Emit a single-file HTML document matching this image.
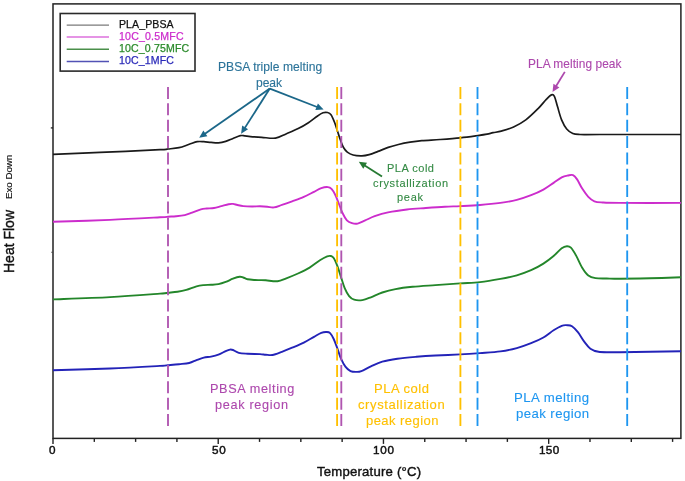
<!DOCTYPE html>
<html><head><meta charset="utf-8"><style>
html,body{margin:0;padding:0;background:#fff;}
body{width:685px;height:481px;position:relative;overflow:hidden;font-family:"Liberation Sans",sans-serif;}
svg{position:absolute;left:0;top:0;}
.t{position:absolute;white-space:nowrap;line-height:1;will-change:transform;}
.rot{position:absolute;white-space:nowrap;line-height:1;transform-origin:0 0;will-change:transform;}
</style></head><body>
<svg width="685" height="481" viewBox="0 0 685 481">
<rect x="53" y="3.9" width="627.9" height="434.5" fill="none" stroke="#222" stroke-width="1.5"/>
<line x1="53.00" y1="438.3" x2="53.00" y2="443.9" stroke="#222" stroke-width="1.4"/>
<line x1="94.31" y1="438.3" x2="94.31" y2="441.9" stroke="#222" stroke-width="1.4"/>
<line x1="135.61" y1="438.3" x2="135.61" y2="441.9" stroke="#222" stroke-width="1.4"/>
<line x1="176.92" y1="438.3" x2="176.92" y2="441.9" stroke="#222" stroke-width="1.4"/>
<line x1="218.22" y1="438.3" x2="218.22" y2="443.9" stroke="#222" stroke-width="1.4"/>
<line x1="259.53" y1="438.3" x2="259.53" y2="441.9" stroke="#222" stroke-width="1.4"/>
<line x1="300.84" y1="438.3" x2="300.84" y2="441.9" stroke="#222" stroke-width="1.4"/>
<line x1="342.14" y1="438.3" x2="342.14" y2="441.9" stroke="#222" stroke-width="1.4"/>
<line x1="383.45" y1="438.3" x2="383.45" y2="443.9" stroke="#222" stroke-width="1.4"/>
<line x1="424.76" y1="438.3" x2="424.76" y2="441.9" stroke="#222" stroke-width="1.4"/>
<line x1="466.06" y1="438.3" x2="466.06" y2="441.9" stroke="#222" stroke-width="1.4"/>
<line x1="507.37" y1="438.3" x2="507.37" y2="441.9" stroke="#222" stroke-width="1.4"/>
<line x1="548.67" y1="438.3" x2="548.67" y2="443.9" stroke="#222" stroke-width="1.4"/>
<line x1="589.98" y1="438.3" x2="589.98" y2="441.9" stroke="#222" stroke-width="1.4"/>
<line x1="631.29" y1="438.3" x2="631.29" y2="441.9" stroke="#222" stroke-width="1.4"/>
<line x1="672.59" y1="438.3" x2="672.59" y2="441.9" stroke="#222" stroke-width="1.4"/>
<line x1="53" y1="127.9" x2="50.8" y2="127.9" stroke="#222" stroke-width="1.3"/>
<line x1="53" y1="252.3" x2="51.3" y2="252.3" stroke="#444" stroke-width="1.1"/>
<path d="M53.00 370.30 C62.50 370.00 92.17 369.23 110.00 368.50 C127.83 367.77 150.33 366.45 160.00 365.90 C169.67 365.35 164.83 365.48 168.00 365.20 C171.17 364.92 175.47 364.57 179.00 364.20 C182.53 363.83 186.28 363.68 189.20 363.00 C192.12 362.32 194.07 361.00 196.50 360.10 C198.93 359.20 201.37 358.18 203.80 357.60 C206.23 357.02 208.67 357.08 211.10 356.60 C213.53 356.12 215.97 355.62 218.40 354.70 C220.83 353.78 223.77 351.95 225.70 351.10 C227.63 350.25 228.78 349.78 230.00 349.60 C231.22 349.42 231.53 349.47 233.00 350.00 C234.47 350.53 236.37 352.18 238.80 352.80 C241.23 353.42 244.07 353.48 247.60 353.70 C251.13 353.92 256.97 353.93 260.00 354.10 C263.03 354.27 263.73 354.55 265.80 354.70 C267.87 354.85 269.72 355.48 272.40 355.00 C275.08 354.52 278.62 353.02 281.90 351.80 C285.18 350.58 288.45 349.23 292.10 347.70 C295.75 346.17 300.15 344.42 303.80 342.60 C307.45 340.78 311.08 338.43 314.00 336.80 C316.92 335.17 319.23 333.60 321.30 332.80 C323.37 332.00 324.93 331.95 326.40 332.00 C327.87 332.05 328.88 331.93 330.10 333.10 C331.32 334.27 332.48 336.43 333.70 339.00 C334.92 341.57 336.18 345.22 337.40 348.50 C338.62 351.78 339.67 355.67 341.00 358.70 C342.33 361.73 343.82 364.63 345.40 366.70 C346.98 368.77 348.67 370.23 350.50 371.10 C352.33 371.97 354.58 371.90 356.40 371.90 C358.22 371.90 358.98 372.03 361.40 371.10 C363.82 370.17 367.42 367.88 370.90 366.30 C374.38 364.72 377.88 362.87 382.30 361.60 C386.72 360.33 391.72 359.50 397.40 358.70 C403.08 357.90 410.07 357.33 416.40 356.80 C422.73 356.27 428.12 355.90 435.40 355.50 C442.68 355.10 452.67 354.80 460.10 354.40 C467.53 354.00 473.28 353.60 480.00 353.10 C486.72 352.60 494.27 352.23 500.40 351.40 C506.53 350.57 511.68 349.47 516.80 348.10 C521.92 346.73 526.67 344.97 531.10 343.20 C535.53 341.43 539.65 339.65 543.40 337.50 C547.15 335.35 550.55 332.25 553.60 330.30 C556.65 328.35 559.48 326.65 561.70 325.80 C563.92 324.95 565.18 325.13 566.90 325.20 C568.62 325.27 570.13 325.00 572.00 326.20 C573.87 327.40 576.07 329.83 578.10 332.40 C580.13 334.97 582.15 338.88 584.20 341.60 C586.25 344.32 588.02 347.00 590.40 348.70 C592.78 350.40 595.10 351.22 598.50 351.80 C601.90 352.38 607.22 352.13 610.80 352.20 C614.38 352.27 608.30 352.35 620.00 352.20 C631.70 352.05 670.83 351.45 681.00 351.30" fill="none" stroke="#2323b8" stroke-width="1.90" stroke-linejoin="round"/>
<path d="M53.00 299.40 C62.50 299.02 92.17 298.07 110.00 297.10 C127.83 296.13 150.33 294.32 160.00 293.60 C169.67 292.88 165.08 293.10 168.00 292.80 C170.92 292.50 174.45 292.28 177.50 291.80 C180.55 291.32 183.13 290.82 186.30 289.90 C189.47 288.98 193.58 287.10 196.50 286.30 C199.42 285.50 201.37 285.35 203.80 285.10 C206.23 284.85 208.67 284.97 211.10 284.80 C213.53 284.63 215.97 284.58 218.40 284.10 C220.83 283.62 223.27 282.80 225.70 281.90 C228.13 281.00 230.68 279.55 233.00 278.70 C235.32 277.85 237.90 277.00 239.60 276.80 C241.30 276.60 241.87 277.08 243.20 277.50 C244.53 277.92 245.65 278.88 247.60 279.30 C249.55 279.72 252.83 279.87 254.90 280.00 C256.97 280.13 258.18 280.05 260.00 280.10 C261.82 280.15 262.88 280.12 265.80 280.30 C268.72 280.48 274.08 281.53 277.50 281.20 C280.92 280.87 282.88 279.58 286.30 278.30 C289.72 277.02 294.12 275.28 298.00 273.50 C301.88 271.72 305.95 269.80 309.60 267.60 C313.25 265.40 316.97 262.17 319.90 260.30 C322.83 258.43 325.38 257.12 327.20 256.40 C329.02 255.68 329.72 255.72 330.80 256.00 C331.88 256.28 332.60 256.40 333.70 258.10 C334.80 259.80 336.18 263.03 337.40 266.20 C338.62 269.37 339.78 273.45 341.00 277.10 C342.22 280.75 343.35 284.93 344.70 288.10 C346.05 291.27 347.52 294.17 349.10 296.10 C350.68 298.03 352.00 299.03 354.20 299.70 C356.40 300.37 359.52 300.50 362.30 300.10 C365.08 299.70 367.57 298.57 370.90 297.30 C374.23 296.03 378.20 293.87 382.30 292.50 C386.40 291.13 390.45 290.05 395.50 289.10 C400.55 288.15 405.95 287.47 412.60 286.80 C419.25 286.13 427.48 285.67 435.40 285.10 C443.32 284.53 452.67 283.90 460.10 283.40 C467.53 282.90 473.28 282.85 480.00 282.10 C486.72 281.35 494.27 280.03 500.40 278.90 C506.53 277.77 511.68 276.75 516.80 275.30 C521.92 273.85 526.67 272.15 531.10 270.20 C535.53 268.25 539.65 265.97 543.40 263.60 C547.15 261.23 550.55 258.55 553.60 256.00 C556.65 253.45 559.48 249.93 561.70 248.30 C563.92 246.67 565.37 246.30 566.90 246.20 C568.43 246.10 569.38 246.17 570.90 247.70 C572.42 249.23 574.12 252.07 576.00 255.40 C577.88 258.73 580.15 264.35 582.20 267.70 C584.25 271.05 586.08 273.77 588.30 275.50 C590.52 277.23 592.43 277.60 595.50 278.10 C598.57 278.60 602.62 278.38 606.70 278.50 C610.78 278.62 612.78 278.83 620.00 278.80 C627.22 278.77 639.83 278.55 650.00 278.30 C660.17 278.05 675.83 277.47 681.00 277.30" fill="none" stroke="#23862a" stroke-width="1.90" stroke-linejoin="round"/>
<path d="M53.00 221.80 C62.50 221.48 92.17 220.65 110.00 219.90 C127.83 219.15 150.33 217.83 160.00 217.30 C169.67 216.77 165.33 216.87 168.00 216.70 C170.67 216.53 173.20 216.57 176.00 216.30 C178.80 216.03 182.12 215.72 184.80 215.10 C187.48 214.48 189.42 213.57 192.10 212.60 C194.78 211.63 198.47 209.98 200.90 209.30 C203.33 208.62 204.52 208.72 206.70 208.50 C208.88 208.28 211.57 208.40 214.00 208.00 C216.43 207.60 218.87 206.73 221.30 206.10 C223.73 205.47 226.65 204.57 228.60 204.20 C230.55 203.83 231.53 203.77 233.00 203.90 C234.47 204.03 235.70 204.63 237.40 205.00 C239.10 205.37 240.77 205.85 243.20 206.10 C245.63 206.35 249.20 206.47 252.00 206.50 C254.80 206.53 257.45 206.27 260.00 206.30 C262.55 206.33 264.98 206.52 267.30 206.70 C269.62 206.88 271.47 207.70 273.90 207.40 C276.33 207.10 278.87 205.92 281.90 204.90 C284.93 203.88 288.45 202.63 292.10 201.30 C295.75 199.97 300.15 198.48 303.80 196.90 C307.45 195.32 311.08 193.27 314.00 191.80 C316.92 190.33 318.98 188.88 321.30 188.10 C323.62 187.32 326.20 186.97 327.90 187.10 C329.60 187.23 330.28 187.63 331.50 188.90 C332.72 190.17 333.98 192.27 335.20 194.70 C336.42 197.13 337.58 200.45 338.80 203.50 C340.02 206.55 341.15 210.20 342.50 213.00 C343.85 215.80 345.32 218.60 346.90 220.30 C348.48 222.00 350.22 222.65 352.00 223.20 C353.78 223.75 355.40 224.07 357.60 223.60 C359.80 223.13 362.35 221.63 365.20 220.40 C368.05 219.17 370.90 217.53 374.70 216.20 C378.50 214.87 382.62 213.52 388.00 212.40 C393.38 211.28 400.68 210.23 407.00 209.50 C413.32 208.77 419.58 208.47 425.90 208.00 C432.22 207.53 439.20 207.02 444.90 206.70 C450.60 206.38 454.25 206.38 460.10 206.10 C465.95 205.82 473.28 205.53 480.00 205.00 C486.72 204.47 494.27 203.75 500.40 202.90 C506.53 202.05 511.68 201.18 516.80 199.90 C521.92 198.62 526.67 196.92 531.10 195.20 C535.53 193.48 539.65 191.65 543.40 189.60 C547.15 187.55 550.55 184.93 553.60 182.90 C556.65 180.87 559.32 178.63 561.70 177.40 C564.08 176.17 566.02 175.88 567.90 175.50 C569.78 175.12 571.47 174.45 573.00 175.10 C574.53 175.75 575.57 177.15 577.10 179.40 C578.63 181.65 580.33 185.70 582.20 188.60 C584.07 191.50 586.27 194.68 588.30 196.80 C590.33 198.92 592.02 200.35 594.40 201.30 C596.78 202.25 598.33 202.23 602.60 202.50 C606.87 202.77 606.93 202.83 620.00 202.90 C633.07 202.97 670.83 202.90 681.00 202.90" fill="none" stroke="#cc2ccc" stroke-width="1.90" stroke-linejoin="round"/>
<path d="M53.00 154.40 C60.83 154.07 82.17 153.18 100.00 152.40 C117.83 151.62 148.67 150.27 160.00 149.70 C171.33 149.13 164.83 149.33 168.00 149.00 C171.17 148.67 175.47 148.48 179.00 147.70 C182.53 146.92 186.17 145.30 189.20 144.30 C192.23 143.30 194.77 142.13 197.20 141.70 C199.63 141.27 201.48 141.58 203.80 141.70 C206.12 141.82 208.67 142.22 211.10 142.40 C213.53 142.58 215.97 142.97 218.40 142.80 C220.83 142.63 223.27 142.12 225.70 141.40 C228.13 140.68 230.57 139.45 233.00 138.50 C235.43 137.55 238.35 136.15 240.30 135.70 C242.25 135.25 243.00 135.65 244.70 135.80 C246.40 135.95 247.67 136.35 250.50 136.60 C253.33 136.85 257.53 137.05 261.70 137.30 C265.87 137.55 271.37 138.70 275.50 138.10 C279.63 137.50 282.72 135.28 286.50 133.70 C290.28 132.12 294.55 130.43 298.20 128.60 C301.85 126.77 305.23 124.77 308.40 122.70 C311.57 120.63 314.77 117.85 317.20 116.20 C319.63 114.55 321.30 113.42 323.00 112.80 C324.70 112.18 326.07 112.18 327.40 112.50 C328.73 112.82 329.78 113.00 331.00 114.70 C332.22 116.40 333.60 119.90 334.70 122.70 C335.80 125.50 336.63 128.57 337.60 131.50 C338.57 134.43 339.52 137.63 340.50 140.30 C341.48 142.97 342.37 145.53 343.50 147.50 C344.63 149.47 345.70 150.85 347.30 152.10 C348.90 153.35 350.67 154.38 353.10 155.00 C355.53 155.62 359.22 155.87 361.90 155.80 C364.58 155.73 366.52 155.33 369.20 154.60 C371.88 153.87 374.83 152.60 378.00 151.40 C381.17 150.20 384.80 148.55 388.20 147.40 C391.60 146.25 394.77 145.37 398.40 144.50 C402.03 143.63 406.10 142.83 410.00 142.20 C413.90 141.57 416.80 141.15 421.80 140.70 C426.80 140.25 433.57 139.98 440.00 139.50 C446.43 139.02 454.10 138.45 460.40 137.80 C466.70 137.15 473.37 136.20 477.80 135.60 C482.23 135.00 484.45 134.68 487.00 134.20 C489.55 133.72 490.72 133.22 493.10 132.70 C495.48 132.18 497.88 132.05 501.30 131.10 C504.72 130.15 509.52 128.87 513.60 127.00 C517.68 125.13 521.72 122.97 525.80 119.90 C529.88 116.83 534.68 112.02 538.10 108.60 C541.52 105.18 544.08 101.68 546.30 99.40 C548.52 97.12 550.05 95.42 551.40 94.90 C552.75 94.38 553.38 94.35 554.40 96.30 C555.42 98.25 556.30 102.67 557.50 106.60 C558.70 110.53 560.07 116.17 561.60 119.90 C563.13 123.63 564.83 126.73 566.70 129.00 C568.57 131.27 570.58 132.58 572.80 133.50 C575.02 134.42 575.47 134.33 580.00 134.50 C584.53 134.67 583.17 134.50 600.00 134.50 C616.83 134.50 667.50 134.50 681.00 134.50" fill="none" stroke="#1a1a1a" stroke-width="1.70" stroke-linejoin="round"/>
<line x1="168.0" y1="87" x2="168.0" y2="426" stroke="#b055b0" stroke-width="1.85" stroke-dasharray="12 4.35"/>
<line x1="337.1" y1="87" x2="337.1" y2="426" stroke="#ffc000" stroke-width="1.85" stroke-dasharray="12 4.35"/>
<line x1="341.3" y1="87" x2="341.3" y2="426" stroke="#b055b0" stroke-width="1.85" stroke-dasharray="12 4.35"/>
<line x1="460.4" y1="87" x2="460.4" y2="426" stroke="#ffc000" stroke-width="1.85" stroke-dasharray="12 4.35"/>
<line x1="477.5" y1="87" x2="477.5" y2="426" stroke="#1e96f0" stroke-width="1.85" stroke-dasharray="12 4.35"/>
<line x1="627.2" y1="87" x2="627.2" y2="426" stroke="#1e96f0" stroke-width="1.85" stroke-dasharray="12 4.35"/>
<line x1="269.80" y1="88.60" x2="204.95" y2="133.70" stroke="#1b6789" stroke-width="1.80"/><polygon points="199.20,137.70 203.36,130.54 207.36,136.29" fill="#1b6789"/>
<line x1="269.80" y1="88.60" x2="244.85" y2="127.89" stroke="#1b6789" stroke-width="1.80"/><polygon points="241.10,133.80 242.17,125.59 248.07,129.34" fill="#1b6789"/>
<line x1="269.80" y1="88.60" x2="317.08" y2="106.97" stroke="#1b6789" stroke-width="1.80"/><polygon points="323.60,109.50 315.34,110.05 317.88,103.52" fill="#1b6789"/>
<line x1="382.00" y1="176.40" x2="364.71" y2="165.45" stroke="#267a33" stroke-width="1.80"/><polygon points="358.80,161.70 367.01,162.76 363.26,168.67" fill="#267a33"/>
<line x1="564.80" y1="71.90" x2="556.15" y2="86.03" stroke="#ad48ad" stroke-width="1.80"/><polygon points="552.50,92.00 553.43,83.78 559.40,87.43" fill="#ad48ad"/>
<rect x="60.2" y="13.5" width="134.8" height="57.6" fill="#fff" stroke="#2a2a2a" stroke-width="1.6"/>
<line x1="66.7" y1="25.10" x2="109" y2="25.10" stroke="#7a7a7a" stroke-width="1.4"/>
<line x1="66.7" y1="37.00" x2="109" y2="37.00" stroke="#dd70dd" stroke-width="1.4"/>
<line x1="66.7" y1="49.20" x2="109" y2="49.20" stroke="#4a8f4a" stroke-width="1.4"/>
<line x1="66.7" y1="61.50" x2="109" y2="61.50" stroke="#5252b5" stroke-width="1.4"/>
</svg>
<div class="t" id="a1" style="left:218.01px;top:60.59px;font-size:12.10px;letter-spacing:0.035px;color:#2b7399;font-weight:400;-webkit-text-stroke:0.12px #2b7399;">PBSA triple melting</div>
<div class="t" id="a2" style="left:256.41px;top:76.50px;font-size:12.10px;letter-spacing:-0.090px;color:#2b7399;font-weight:400;-webkit-text-stroke:0.12px #2b7399;">peak</div>
<div class="t" id="b1" style="left:527.68px;top:58.56px;font-size:11.90px;letter-spacing:0.061px;color:#ad48ad;font-weight:400;-webkit-text-stroke:0.12px #ad48ad;">PLA melting peak</div>
<div class="t" id="c1" style="left:386.73px;top:162.51px;font-size:11.00px;letter-spacing:0.508px;color:#348a44;font-weight:400;-webkit-text-stroke:0.12px #348a44;">PLA cold</div>
<div class="t" id="c2" style="left:373.01px;top:177.56px;font-size:11.00px;letter-spacing:0.642px;color:#348a44;font-weight:400;-webkit-text-stroke:0.12px #348a44;">crystallization</div>
<div class="t" id="c3" style="left:397.18px;top:191.62px;font-size:11.00px;letter-spacing:0.698px;color:#348a44;font-weight:400;-webkit-text-stroke:0.12px #348a44;">peak</div>
<div class="t" id="d1" style="left:209.84px;top:382.51px;font-size:12.70px;letter-spacing:0.610px;color:#ad48ad;font-weight:400;-webkit-text-stroke:0.12px #ad48ad;">PBSA melting</div>
<div class="t" id="d2" style="left:215.48px;top:398.60px;font-size:12.70px;letter-spacing:0.682px;color:#ad48ad;font-weight:400;-webkit-text-stroke:0.12px #ad48ad;">peak region</div>
<div class="t" id="e1" style="left:374.13px;top:381.60px;font-size:13.00px;letter-spacing:0.526px;color:#ffc000;font-weight:400;-webkit-text-stroke:0.12px #ffc000;">PLA cold</div>
<div class="t" id="e2" style="left:358.33px;top:397.58px;font-size:13.00px;letter-spacing:0.616px;color:#ffc000;font-weight:400;-webkit-text-stroke:0.12px #ffc000;">crystallization</div>
<div class="t" id="e3" style="left:365.64px;top:413.61px;font-size:13.00px;letter-spacing:0.454px;color:#ffc000;font-weight:400;-webkit-text-stroke:0.12px #ffc000;">peak region</div>
<div class="t" id="f1" style="left:514.46px;top:390.62px;font-size:13.20px;letter-spacing:0.470px;color:#1e96f0;font-weight:400;-webkit-text-stroke:0.12px #1e96f0;">PLA melting</div>
<div class="t" id="f2" style="left:515.75px;top:406.56px;font-size:13.20px;letter-spacing:0.417px;color:#1e96f0;font-weight:400;-webkit-text-stroke:0.12px #1e96f0;">peak region</div>
<div class="t" id="g0" style="left:49.01px;top:443.51px;font-size:11.70px;letter-spacing:6.107px;color:#111;font-weight:400;-webkit-text-stroke:0.45px #111;">0</div>
<div class="t" id="g1" style="left:212.18px;top:443.61px;font-size:11.70px;letter-spacing:0.750px;color:#111;font-weight:400;-webkit-text-stroke:0.45px #111;">50</div>
<div class="t" id="g2" style="left:373.29px;top:443.57px;font-size:11.70px;letter-spacing:0.754px;color:#111;font-weight:400;-webkit-text-stroke:0.45px #111;">100</div>
<div class="t" id="g3" style="left:538.89px;top:443.61px;font-size:11.70px;letter-spacing:0.336px;color:#111;font-weight:400;-webkit-text-stroke:0.45px #111;">150</div>
<div class="t" id="h1" style="left:316.94px;top:464.61px;font-size:13.14px;letter-spacing:0.218px;color:#111;font-weight:400;-webkit-text-stroke:0.4px #111;">Temperature (°C)</div>
<div class="t" id="l1" style="left:119.08px;top:18.55px;font-size:10.57px;letter-spacing:0.079px;color:#111;font-weight:400;-webkit-text-stroke:0.25px #111;">PLA_PBSA</div>
<div class="t" id="l2" style="left:119.08px;top:30.60px;font-size:10.57px;letter-spacing:0.197px;color:#cc2ccc;font-weight:400;-webkit-text-stroke:0.25px #cc2ccc;">10C_0.5MFC</div>
<div class="t" id="l3" style="left:119.20px;top:42.50px;font-size:10.57px;letter-spacing:0.152px;color:#2a8a2a;font-weight:400;-webkit-text-stroke:0.25px #2a8a2a;">10C_0.75MFC</div>
<div class="t" id="l4" style="left:119.02px;top:54.50px;font-size:10.57px;letter-spacing:0.134px;color:#2a2ab8;font-weight:400;-webkit-text-stroke:0.25px #2a2ab8;">10C_1MFC</div>
<div class="rot" style="left:1.5px;top:272.5px;font-size:14px;transform:rotate(-90deg);color:#111;-webkit-text-stroke:0.35px #111;">Heat Flow</div>
<div class="rot" style="left:3.9px;top:198.6px;font-size:9.7px;transform:rotate(-90deg);color:#111;-webkit-text-stroke:0.2px #111;">Exo Down</div>
</body></html>
